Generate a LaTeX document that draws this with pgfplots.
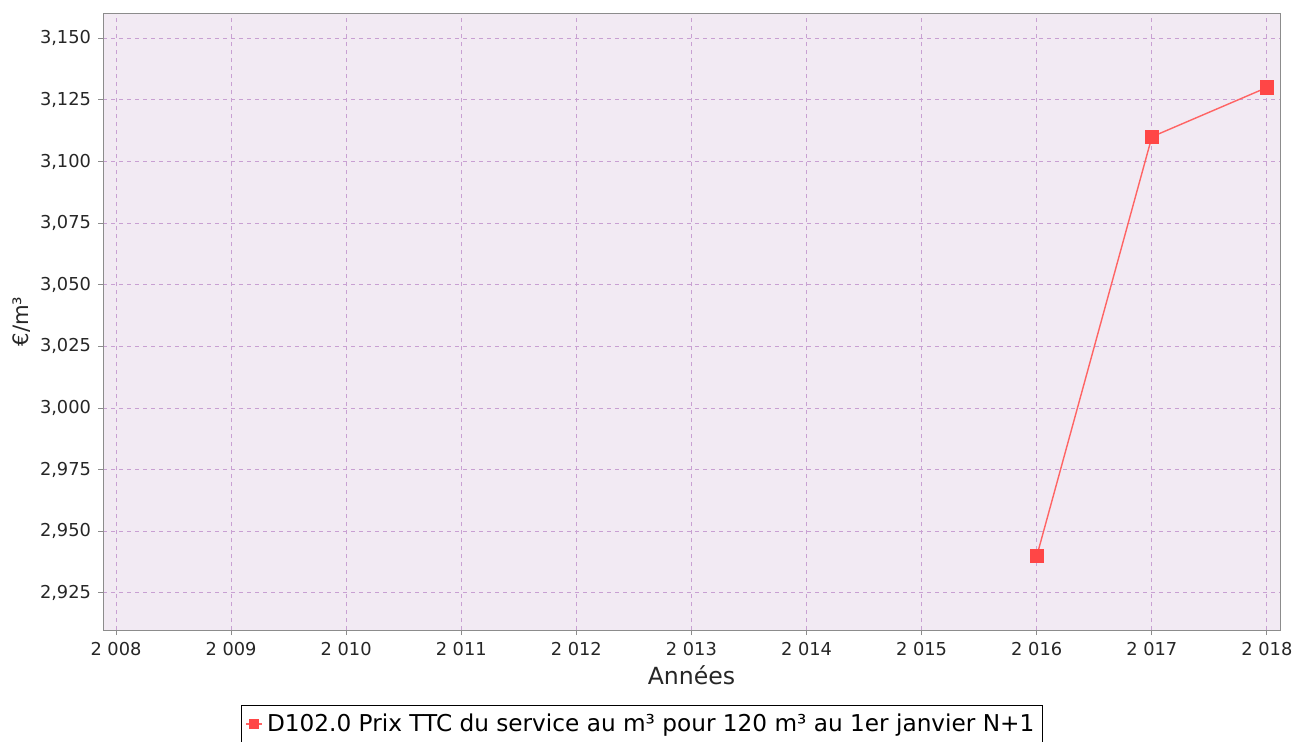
\documentclass[border=0pt]{standalone}
\usepackage{pgfplots}
\pgfplotsset{compat=1.18}
\usepackage{fontspec}
\setmainfont{DejaVu Sans}
\definecolor{bgc}{RGB}{242,234,243}
\definecolor{gridc}{RGB}{200,160,210}
\definecolor{linec}{RGB}{255,100,100}
\definecolor{markc}{RGB}{255,70,70}
\definecolor{axc}{RGB}{140,140,140}
\begin{document}
\begin{tikzpicture}[x=0.5pt,y=0.5pt]
\useasboundingbox (0,0) rectangle (1296,741);
\begin{axis}[
  at={(103*0.5pt,111*0.5pt)}, anchor=south west,
  scale only axis, width=588.5pt, height=308.5pt,
  xmin=2007.887, xmax=2018.113, ymin=2.90997, ymax=3.1602,
  xtick={2008,...,2018},
  ytick={2.925,2.950,...,3.151},
  axis background/.style={fill=bgc},
  axis line style={axc},
  major tick style={axc, line width=0.5pt},
  major tick length=2.5pt,
  tick align=outside,
  xtick pos=bottom, ytick pos=left,
  grid=major,
  major grid style={gridc, dashed, dash pattern=on 2pt off 2pt, line width=0.5pt},
  ticklabel style={font=\fontsize{8.9}{10}\selectfont, text=black!85},
  /pgf/number format/assume math mode=true,
  x tick label style={/pgf/number format/.cd, 1000 sep={\ }, precision=0},
  y tick label style={/pgf/number format/.cd, fixed, fixed zerofill, precision=3, use comma},
  xlabel={Années}, ylabel={€/m³},
  xlabel style={font=\fontsize{11.8}{13}\selectfont, text=black!85, yshift=2pt},
  ylabel style={font=\fontsize{10.6}{12}\selectfont, text=black!85, yshift=-2pt},
  legend style={at={(0.458,-0.122)}, anchor=north, draw=black, line width=0.6pt,
    font=\fontsize{11.6}{13}\selectfont, inner sep=2pt},
  legend cell align=left,
  legend image code/.code={
    \draw[linec, line width=0.7pt] (0pt,0pt) -- (8pt,0pt);
    \fill[markc] (1.8pt,-2.2pt) rectangle (6.2pt,2.2pt);
  },
]
\addplot[linec, line width=0.7pt, mark=square*, mark size=3.2pt, mark options={fill=markc, draw=markc}]
  coordinates {(2016,2.940) (2017,3.110) (2018,3.130)};
\addlegendentry{D102.0 Prix TTC du service au m³ pour 120 m³ au 1er janvier N+1}
\end{axis}
\end{tikzpicture}
\end{document}
